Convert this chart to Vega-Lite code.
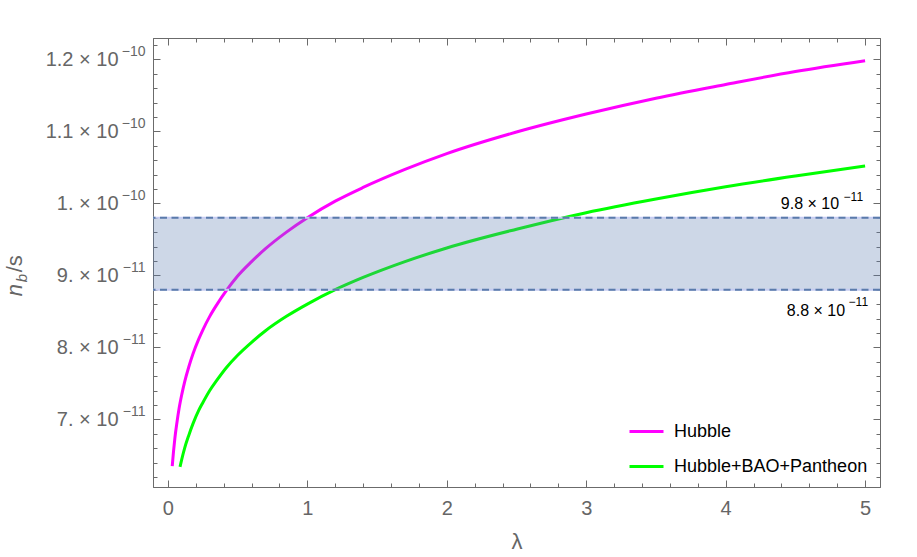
{
  "$schema": "https://vega.github.io/schema/vega-lite/v6.json",
  "width": 727,
  "height": 449,
  "autosize": "none",
  "padding": {"left": 153, "top": 38, "right": 37, "bottom": 70},
  "background": "white",
  "config": {
    "font": "Liberation Sans",
    "view": {"stroke": "#6b6b6b", "strokeWidth": 1},
    "axis": {
      "grid": false,
      "domainColor": "#6b6b6b",
      "tickColor": "#6b6b6b",
      "labelColor": "#666666",
      "labelFont": "Liberation Sans",
      "titleFont": "Liberation Sans",
      "titleColor": "#666666",
      "titleFontWeight": "normal",
      "labelOverlap": false,
      "labelFlush": false
    }
  },
  "datasets": {
    "curves": [
      {"lambda": 0.031, "nbs": 6.35e-11, "series": "Hubble"},
      {"lambda": 0.04, "nbs": 6.55e-11, "series": "Hubble"},
      {"lambda": 0.05, "nbs": 6.74e-11, "series": "Hubble"},
      {"lambda": 0.065, "nbs": 6.96e-11, "series": "Hubble"},
      {"lambda": 0.08, "nbs": 7.15e-11, "series": "Hubble"},
      {"lambda": 0.1, "nbs": 7.35e-11, "series": "Hubble"},
      {"lambda": 0.12, "nbs": 7.52e-11, "series": "Hubble"},
      {"lambda": 0.15, "nbs": 7.73e-11, "series": "Hubble"},
      {"lambda": 0.18, "nbs": 7.91e-11, "series": "Hubble"},
      {"lambda": 0.22, "nbs": 8.11e-11, "series": "Hubble"},
      {"lambda": 0.25, "nbs": 8.24e-11, "series": "Hubble"},
      {"lambda": 0.3, "nbs": 8.43e-11, "series": "Hubble"},
      {"lambda": 0.35, "nbs": 8.59e-11, "series": "Hubble"},
      {"lambda": 0.42, "nbs": 8.79e-11, "series": "Hubble"},
      {"lambda": 0.5, "nbs": 8.99e-11, "series": "Hubble"},
      {"lambda": 0.6, "nbs": 9.19e-11, "series": "Hubble"},
      {"lambda": 0.7, "nbs": 9.37e-11, "series": "Hubble"},
      {"lambda": 0.85, "nbs": 9.60e-11, "series": "Hubble"},
      {"lambda": 1.0, "nbs": 9.80e-11, "series": "Hubble"},
      {"lambda": 1.2, "nbs": 10.03e-11, "series": "Hubble"},
      {"lambda": 1.4, "nbs": 10.22e-11, "series": "Hubble"},
      {"lambda": 1.7, "nbs": 10.47e-11, "series": "Hubble"},
      {"lambda": 2.0, "nbs": 10.69e-11, "series": "Hubble"},
      {"lambda": 2.5, "nbs": 10.99e-11, "series": "Hubble"},
      {"lambda": 3.0, "nbs": 11.24e-11, "series": "Hubble"},
      {"lambda": 3.5, "nbs": 11.46e-11, "series": "Hubble"},
      {"lambda": 4.0, "nbs": 11.65e-11, "series": "Hubble"},
      {"lambda": 4.5, "nbs": 11.83e-11, "series": "Hubble"},
      {"lambda": 5.0, "nbs": 11.98e-11, "series": "Hubble"},
      {"lambda": 0.087, "nbs": 6.34e-11, "series": "Hubble+BAO+Pantheon"},
      {"lambda": 0.1, "nbs": 6.45e-11, "series": "Hubble+BAO+Pantheon"},
      {"lambda": 0.12, "nbs": 6.60e-11, "series": "Hubble+BAO+Pantheon"},
      {"lambda": 0.15, "nbs": 6.78e-11, "series": "Hubble+BAO+Pantheon"},
      {"lambda": 0.18, "nbs": 6.94e-11, "series": "Hubble+BAO+Pantheon"},
      {"lambda": 0.22, "nbs": 7.12e-11, "series": "Hubble+BAO+Pantheon"},
      {"lambda": 0.25, "nbs": 7.23e-11, "series": "Hubble+BAO+Pantheon"},
      {"lambda": 0.3, "nbs": 7.40e-11, "series": "Hubble+BAO+Pantheon"},
      {"lambda": 0.35, "nbs": 7.54e-11, "series": "Hubble+BAO+Pantheon"},
      {"lambda": 0.42, "nbs": 7.72e-11, "series": "Hubble+BAO+Pantheon"},
      {"lambda": 0.5, "nbs": 7.89e-11, "series": "Hubble+BAO+Pantheon"},
      {"lambda": 0.6, "nbs": 8.07e-11, "series": "Hubble+BAO+Pantheon"},
      {"lambda": 0.7, "nbs": 8.23e-11, "series": "Hubble+BAO+Pantheon"},
      {"lambda": 0.85, "nbs": 8.43e-11, "series": "Hubble+BAO+Pantheon"},
      {"lambda": 1.0, "nbs": 8.60e-11, "series": "Hubble+BAO+Pantheon"},
      {"lambda": 1.2, "nbs": 8.80e-11, "series": "Hubble+BAO+Pantheon"},
      {"lambda": 1.4, "nbs": 8.97e-11, "series": "Hubble+BAO+Pantheon"},
      {"lambda": 1.7, "nbs": 9.19e-11, "series": "Hubble+BAO+Pantheon"},
      {"lambda": 2.0, "nbs": 9.38e-11, "series": "Hubble+BAO+Pantheon"},
      {"lambda": 2.5, "nbs": 9.64e-11, "series": "Hubble+BAO+Pantheon"},
      {"lambda": 3.0, "nbs": 9.87e-11, "series": "Hubble+BAO+Pantheon"},
      {"lambda": 3.5, "nbs": 10.06e-11, "series": "Hubble+BAO+Pantheon"},
      {"lambda": 4.0, "nbs": 10.23e-11, "series": "Hubble+BAO+Pantheon"},
      {"lambda": 4.5, "nbs": 10.38e-11, "series": "Hubble+BAO+Pantheon"},
      {"lambda": 5.0, "nbs": 10.52e-11, "series": "Hubble+BAO+Pantheon"}
    ],
    "band": [{"lo": 8.8e-11, "hi": 9.8e-11}],
    "levels": [{"level": 8.8e-11}, {"level": 9.8e-11}],
    "upper": [{"lambda": 5.0, "level": 9.8e-11, "mant": "9.8 × 10", "exp": "−11"}],
    "lower": [{"lambda": 5.0, "level": 8.8e-11, "mant": "8.8 × 10", "exp": "−11"}]
  },
  "resolve": {"axis": {"x": "independent", "y": "independent"}},
  "layer": [
    {
      "data": {"name": "curves"},
      "mark": {"type": "line", "strokeWidth": 3, "interpolate": "monotone", "clip": true},
      "encoding": {
        "x": {
          "field": "lambda", "type": "quantitative",
          "scale": {"domain": [-0.107, 5.107], "nice": false, "zero": false},
          "axis": {
            "orient": "bottom",
            "title": "λ",
            "titleFontSize": 22,
            "titlePadding": 10,
            "values": [0,0.2,0.4,0.6,0.8,1,1.2,1.4,1.6,1.8,2,2.2,2.4,2.6,2.8,3,3.2,3.4,3.6,3.8,4,4.2,4.4,4.6,4.8,5],
            "labelExpr": "abs(datum.value - round(datum.value)) < 0.001 ? '' + round(datum.value) : ''",
            "tickSize": {"expr": "abs(datum.value - round(datum.value)) < 0.001 ? -7 : -4"},
            "labelPadding": 18,
            "labelFontSize": 20
          }
        },
        "y": {
          "field": "nbs", "type": "quantitative",
          "scale": {"domain": [6.06e-11, 12.296e-11], "nice": false, "zero": false},
          "axis": {
            "orient": "left",
            "title": null,
            "values": [6.2e-11,6.4e-11,6.6e-11,6.8e-11,7e-11,7.2e-11,7.4e-11,7.6e-11,7.8e-11,8e-11,8.2e-11,8.4e-11,8.6e-11,8.8e-11,9e-11,9.2e-11,9.4e-11,9.6e-11,9.8e-11,10e-11,10.2e-11,10.4e-11,10.6e-11,10.8e-11,11e-11,11.2e-11,11.4e-11,11.6e-11,11.8e-11,12e-11,12.2e-11],
            "labelExpr": "abs(datum.value*1e11 - round(datum.value*1e11)) > 0.01 ? '' : (datum.value > 9.95e-11 ? (round(datum.value*1e11) == 10 ? '1.' : format(datum.value*1e10, '.1f')) : round(datum.value*1e11) + '.') + ' × 10'",
            "tickSize": {"expr": "abs(datum.value*1e11 - round(datum.value*1e11)) < 0.01 ? -7 : -4"},
            "labelPadding": 42,
            "labelFontSize": 20
          }
        },
        "color": {
          "field": "series", "type": "nominal",
          "scale": {"domain": ["Hubble", "Hubble+BAO+Pantheon"], "range": ["#ff00ff", "#00ff00"]},
          "legend": {
            "orient": "none",
            "legendX": 475,
            "legendY": 375,
            "title": null,
            "symbolType": "stroke",
            "symbolSize": 1156,
            "symbolStrokeWidth": 3,
            "labelFontSize": 18,
            "labelColor": "#000000",
            "labelFont": "Liberation Sans",
            "labelOffset": 9,
            "labelLimit": 400,
            "rowPadding": 7,
            "padding": 0
          }
        }
      }
    },
    {
      "data": {"name": "band"},
      "mark": {"type": "rect", "color": "#5f7fb0", "opacity": 0.31},
      "encoding": {
        "y": {
          "field": "lo", "type": "quantitative",
          "scale": {"domain": [6.06e-11, 12.296e-11], "nice": false, "zero": false},
          "axis": {
            "orient": "left",
            "title": null,
            "ticks": false,
            "domain": false,
            "values": [7e-11, 8e-11, 9e-11, 10e-11, 11e-11, 12e-11],
            "labelExpr": "datum.value > 9.95e-11 ? '−10' : '−11'",
            "labelPadding": 8,
            "labelFontSize": 14,
            "labelOffset": -8
          }
        },
        "y2": {"field": "hi"}
      }
    },
    {
      "data": {"name": "levels"},
      "mark": {"type": "rule", "color": "#c6ccf2", "strokeWidth": 2},
      "encoding": {
        "y": {"field": "level", "type": "quantitative", "scale": {"domain": [6.06e-11, 12.296e-11], "nice": false, "zero": false}, "axis": null}
      }
    },
    {
      "data": {"name": "levels"},
      "mark": {"type": "rule", "color": "#5a7bab", "strokeWidth": 2, "strokeDash": [7, 4.5]},
      "encoding": {
        "y": {"field": "level", "type": "quantitative", "scale": {"domain": [6.06e-11, 12.296e-11], "nice": false, "zero": false}, "axis": null}
      }
    },
    {
      "data": {"name": "upper"},
      "mark": {"type": "text", "align": "right", "baseline": "alphabetic", "fontSize": 16, "color": "#000000", "dx": -26, "dy": -9},
      "encoding": {
        "x": {
          "field": "lambda", "type": "quantitative",
          "scale": {"domain": [-0.107, 5.107], "nice": false, "zero": false},
          "axis": {
            "orient": "top", "title": null, "labels": false,
            "values": [0,0.2,0.4,0.6,0.8,1,1.2,1.4,1.6,1.8,2,2.2,2.4,2.6,2.8,3,3.2,3.4,3.6,3.8,4,4.2,4.4,4.6,4.8,5],
            "tickSize": {"expr": "abs(datum.value - round(datum.value)) < 0.001 ? -7 : -4"}
          }
        },
        "y": {
          "field": "level", "type": "quantitative",
          "scale": {"domain": [6.06e-11, 12.296e-11], "nice": false, "zero": false},
          "axis": {
            "orient": "right", "title": null, "labels": false,
            "values": [6.2e-11,6.4e-11,6.6e-11,6.8e-11,7e-11,7.2e-11,7.4e-11,7.6e-11,7.8e-11,8e-11,8.2e-11,8.4e-11,8.6e-11,8.8e-11,9e-11,9.2e-11,9.4e-11,9.6e-11,9.8e-11,10e-11,10.2e-11,10.4e-11,10.6e-11,10.8e-11,11e-11,11.2e-11,11.4e-11,11.6e-11,11.8e-11,12e-11,12.2e-11],
            "tickSize": {"expr": "abs(datum.value*1e11 - round(datum.value*1e11)) < 0.01 ? -7 : -4"}
          }
        },
        "text": {"field": "mant"}
      }
    },
    {
      "data": {"name": "upper"},
      "mark": {"type": "text", "align": "right", "baseline": "alphabetic", "fontSize": 12, "color": "#000000", "dx": -2, "dy": -17},
      "encoding": {
        "x": {"field": "lambda", "type": "quantitative", "scale": {"domain": [-0.107, 5.107], "nice": false, "zero": false}, "axis": null},
        "y": {"field": "level", "type": "quantitative", "scale": {"domain": [6.06e-11, 12.296e-11], "nice": false, "zero": false}, "axis": null},
        "text": {"field": "exp"}
      }
    },
    {
      "data": {"name": "lower"},
      "mark": {"type": "text", "align": "right", "baseline": "alphabetic", "fontSize": 16, "color": "#000000", "dx": -20, "dy": 26},
      "encoding": {
        "x": {"field": "lambda", "type": "quantitative", "scale": {"domain": [-0.107, 5.107], "nice": false, "zero": false}, "axis": null},
        "y": {"field": "level", "type": "quantitative", "scale": {"domain": [6.06e-11, 12.296e-11], "nice": false, "zero": false}, "axis": null},
        "text": {"field": "mant"}
      }
    },
    {
      "data": {"name": "lower"},
      "mark": {"type": "text", "align": "right", "baseline": "alphabetic", "fontSize": 12, "color": "#000000", "dx": 3, "dy": 16},
      "encoding": {
        "x": {"field": "lambda", "type": "quantitative", "scale": {"domain": [-0.107, 5.107], "nice": false, "zero": false}, "axis": null},
        "y": {"field": "level", "type": "quantitative", "scale": {"domain": [6.06e-11, 12.296e-11], "nice": false, "zero": false}, "axis": null},
        "text": {"field": "exp"}
      }
    },
    {
      "data": {"values": [{"part": "n"}]},
      "mark": {"type": "text", "angle": 270, "align": "left", "baseline": "alphabetic", "fontSize": 22, "fontStyle": "italic", "color": "#666666", "dx": -21, "dy": -146},
      "encoding": {
        "x": {"datum": 0, "type": "quantitative", "scale": {"domain": [-0.107, 5.107], "nice": false, "zero": false}, "axis": null},
        "y": {"datum": 9e-11, "type": "quantitative", "scale": {"domain": [6.06e-11, 12.296e-11], "nice": false, "zero": false}, "axis": null},
        "text": {"field": "part"}
      }
    },
    {
      "data": {"values": [{"part": "b"}]},
      "mark": {"type": "text", "angle": 270, "align": "left", "baseline": "alphabetic", "fontSize": 15, "fontStyle": "italic", "color": "#666666", "dx": -7, "dy": -141},
      "encoding": {
        "x": {"datum": 0, "type": "quantitative", "scale": {"domain": [-0.107, 5.107], "nice": false, "zero": false}, "axis": null},
        "y": {"datum": 9e-11, "type": "quantitative", "scale": {"domain": [6.06e-11, 12.296e-11], "nice": false, "zero": false}, "axis": null},
        "text": {"field": "part"}
      }
    },
    {
      "data": {"values": [{"part": "/s"}]},
      "mark": {"type": "text", "angle": 270, "align": "left", "baseline": "alphabetic", "fontSize": 22, "color": "#666666", "dx": 3, "dy": -146},
      "encoding": {
        "x": {"datum": 0, "type": "quantitative", "scale": {"domain": [-0.107, 5.107], "nice": false, "zero": false}, "axis": null},
        "y": {"datum": 9e-11, "type": "quantitative", "scale": {"domain": [6.06e-11, 12.296e-11], "nice": false, "zero": false}, "axis": null},
        "text": {"field": "part"}
      }
    }
  ]
}
